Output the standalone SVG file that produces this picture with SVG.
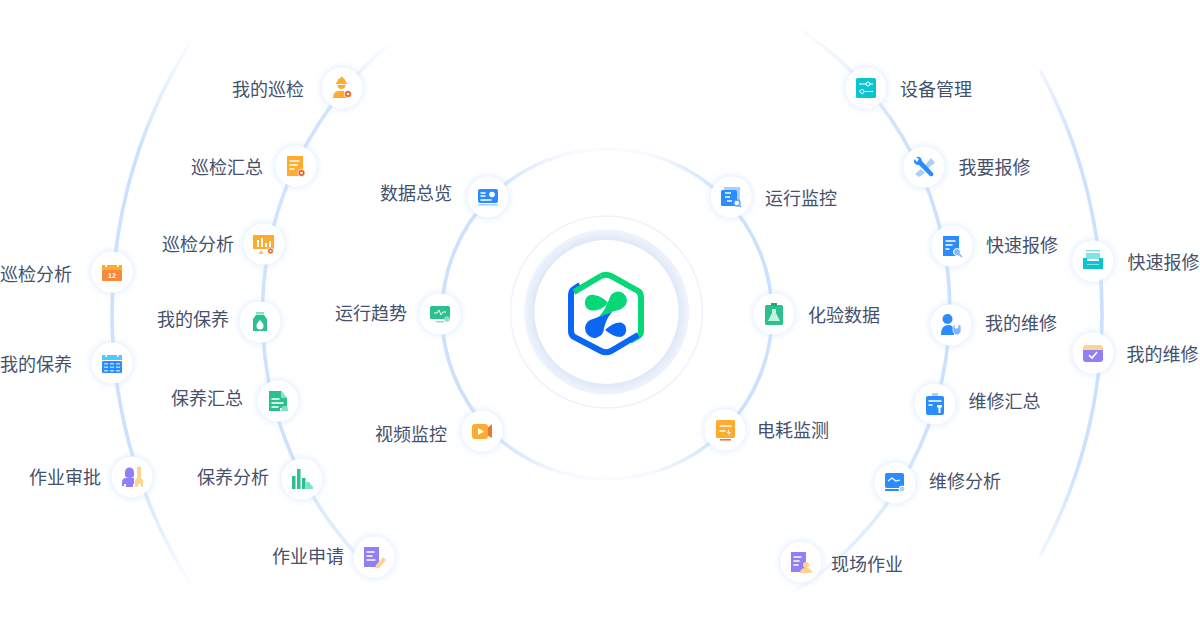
<svg xmlns="http://www.w3.org/2000/svg" width="1200" height="629" viewBox="0 0 1200 629">
<style>
.t{font-family:"Noto Sans CJK SC","Noto Sans",sans-serif;font-size:18px;fill:#45516c}
.c{fill:#fff;filter:url(#glow)}
.l{fill:none;stroke-width:3.6}
.w{fill:#fff}.ws{fill:none;stroke:#fff;stroke-width:1.5;stroke-linecap:round}
.b{fill:#2b8cff}.bl{fill:#a9cfff}.g{fill:#2cc18c}.gl{fill:#80e3c8}.o{fill:#ffab2e}.r{fill:#ec5f1e}.p{fill:#917ff8}.pe{fill:#ffd38e}.te{fill:#0cc4d0}
</style>
<defs>
<filter id="glow" x="-50%" y="-50%" width="200%" height="200%"><feDropShadow dx="0" dy="0" stdDeviation="4" flood-color="#c6ddff" flood-opacity=".7"/></filter>
<linearGradient id="gi" gradientUnits="userSpaceOnUse" x1="442" y1="0" x2="772" y2="0">
<stop offset="0" stop-color="#cbe1ff"/><stop offset=".15" stop-color="#cbe1ff"/><stop offset=".36" stop-color="#cbe1ff" stop-opacity=".2"/><stop offset=".5" stop-color="#cbe1ff" stop-opacity=".1"/><stop offset=".64" stop-color="#cbe1ff" stop-opacity=".2"/><stop offset=".85" stop-color="#cbe1ff"/><stop offset="1" stop-color="#cbe1ff"/>
</linearGradient>
<linearGradient id="gl2" gradientUnits="userSpaceOnUse" x1="0" y1="40" x2="0" y2="580">
<stop offset="0" stop-color="#cbe1ff" stop-opacity="0"/><stop offset=".13" stop-color="#cbe1ff" stop-opacity=".9"/><stop offset=".75" stop-color="#cbe1ff"/><stop offset=".95" stop-color="#cbe1ff" stop-opacity=".5"/><stop offset="1" stop-color="#cbe1ff" stop-opacity="0"/>
</linearGradient>
<linearGradient id="gr2" gradientUnits="userSpaceOnUse" x1="0" y1="20" x2="0" y2="600">
<stop offset="0" stop-color="#cbe1ff" stop-opacity="0"/><stop offset=".2" stop-color="#cbe1ff"/><stop offset=".7" stop-color="#cbe1ff"/><stop offset=".9" stop-color="#cbe1ff" stop-opacity=".55"/><stop offset="1" stop-color="#cbe1ff" stop-opacity="0"/>
</linearGradient>
<linearGradient id="go" gradientUnits="userSpaceOnUse" x1="0" y1="35" x2="0" y2="590">
<stop offset="0" stop-color="#cbe1ff" stop-opacity="0"/><stop offset=".2" stop-color="#cbe1ff"/><stop offset=".78" stop-color="#cbe1ff"/><stop offset="1" stop-color="#cbe1ff" stop-opacity="0"/>
</linearGradient>
<radialGradient id="band" gradientUnits="userSpaceOnUse" cx="606.5" cy="312" r="83">
<stop offset=".86" stop-color="#dde8f7"/><stop offset="1" stop-color="#f0f5fc"/>
</radialGradient>
</defs>
<rect width="1200" height="629" fill="#fff"/>
<g id="connectors">
<circle class="l" cx="607" cy="314" r="165" stroke="url(#gi)"/>
<path class="l" stroke="url(#gl2)" d="M392 42A352 352 0 0 0 395 590"/>
<path class="l" stroke="url(#gr2)" d="M790 23A335 335 0 0 1 785 597"/>
<path class="l" stroke="url(#go)" d="M195 35A507 507 0 0 0 195 591"/>
<path class="l" stroke="url(#go)" d="M1040 70A507 507 0 0 1 1040 556"/>
</g>
<g id="hub">
<circle cx="606.5" cy="312" r="96" fill="#fff" stroke="#eef3fa" stroke-width="1.5"/>
<circle cx="606.500" cy="312" r="82.500" fill="url(#band)"/>
<circle cx="606.500" cy="312" r="72" fill="#fff"/>
<path d="M601 276Q606 273.500 611 276L638 291Q641 293 641 297V331Q641 335 637 337L630 341" fill="none" stroke="#06d877" stroke-width="6"/>
<path d="M580 285L574 289Q571 291 571 295V331Q571 335 574 337L601 351Q606 353.500 611 351L638 335" fill="none" stroke="#0a66f5" stroke-width="6"/>
<path d="M574 292L601 276" fill="none" stroke="#06d877" stroke-width="6"/>
<path d="M585 303C585 297 589 294 594 295C600 296 605 299 608 303C605 307 600 310 594 310.500C589 311 585 308 585 303Z" fill="#06d877"/>
<path d="M611 295A8.500 8.500 0 0 1 625 306C620 311 616 310 612 312C604 315 598 317 597 318C604 313 607 304 611 295Z" fill="#06d877"/>
<path d="M590 320C598 317 604 315 612 312C607 318 606 322 604 328A9.500 9.500 0 1 1 590 320Z" fill="#0a66f5"/>
<path d="M605 330C610 325 616 322 621 322.500A7.500 7.500 0 0 1 620 337C615 337 610 334 605 330Z" fill="#0a66f5"/>
</g>
<g id="n-wdxj"><circle class="c" cx="342" cy="88" r="20.5"/><g transform="translate(342,88)"><path class="o" d="M-5-5.500A4.500 4.500 0 0 1 4-5.500H5V-4H-6V-5.500Z"/><path class="o" d="M-4.500-3H3.500A4 4 0 0 1-4.500-3Z"/><rect class="o" x="-1.200" y="-11" width="2.400" height="3"/><path class="o" d="M-9 10Q-9 3-3 3H2L5 10Z"/><circle class="r" cx="6" cy="6" r="3.600" stroke="#fff" stroke-width=".8"/><circle class="w" cx="6" cy="6" r="1.300"/></g><text class="t" x="232" y="95.500">我的巡检</text></g>
<g id="n-xjhz"><circle class="c" cx="296" cy="166" r="20.500"/><g transform="translate(296,166)"><rect class="o" x="-9" y="-10" width="16" height="20"/><path class="ws" d="M-6-5H3M-6-1H1M-6 3H-2"/><circle class="r" cx="5.500" cy="7" r="3.600" stroke="#fff" stroke-width=".8"/><circle class="w" cx="5.500" cy="7" r="1.300"/></g><text class="t" x="191" y="173.500">巡检汇总</text></g>
<g id="n-xjfx"><circle class="c" cx="264" cy="244" r="20.500"/><g transform="translate(264,244)"><rect class="o" x="-11" y="-9" width="21" height="14"/><path class="w" d="M-7-4h2V3h-2zM-3-6h2V3h-2zM1-1h2V3h-2zM5-3h2V3h-2z"/><path d="M-3 6l2.500 4h-5z" fill="#ffb48a"/><circle class="r" cx="6.500" cy="7" r="3" stroke="#fff" stroke-width=".8"/><circle class="w" cx="6.500" cy="7" r="1"/></g><text class="t" x="162" y="250.500">巡检分析</text></g>
<g id="n-wdby"><circle class="c" cx="260" cy="322" r="20.500"/><g transform="translate(260,322)"><rect class="gl" x="-4" y="-10" width="8" height="2.500"/><path class="g" d="M-4-7H4L7-3V9H-7V-3Z"/><path class="w" d="M0-2Q4 2 3.500 4A3.500 3.500 0 0 1-3.500 4Q-4 2 0-2Z"/></g><text class="t" x="157" y="325.500">我的保养</text></g>
<g id="n-byhz"><circle class="c" cx="278" cy="401" r="20.500"/><g transform="translate(278,401)"><path class="g" d="M-9-10H3L9-3V7H2V10H-9Z"/><path class="gl" d="M3-10L9-3H3Z"/><path class="ws" d="M-6-2H1M-6 2H5M-6 6H0"/><path class="gl" d="M3 10Q3 5 6 5H8Q10 5 10 10Z"/></g><text class="t" x="171" y="404.500">保养汇总</text></g>
<g id="n-byfx"><circle class="c" cx="302" cy="479" r="20.500"/><g transform="translate(302,479)"><path class="g" d="M-10-3h3.500V10H-10zM-5-10h3.500V10H-5zM0-1h3.500V10H0z"/><path class="gl" d="M4 3h3l4 5v2H4z"/></g><text class="t" x="197" y="483.500">保养分析</text></g>
<g id="n-zysq"><circle class="c" cx="374" cy="557" r="20.500"/><g transform="translate(374,557)"><rect class="p" x="-10" y="-10" width="15" height="20"/><path class="ws" d="M-7-5H0M-7-1H-2M-7 3H1"/><path class="pe" d="M2 8L9 0L12 3L5 11L1 11Z"/></g><text class="t" x="272" y="562.500">作业申请</text></g>
<g id="n-xjfx2"><circle class="c" cx="112" cy="272" r="20.500"/><g transform="translate(112,272)"><path class="o" d="M-10-7H10V-2H-10Z"/><rect x="-10" y="-2" width="20" height="11" rx="1" fill="#f58a3d"/><path class="w" d="M-6.500-9h1.500v4h-1.500zM5-9h1.500v4H5z"/><text x="0" y="6" text-anchor="middle" font-family="'Liberation Sans',sans-serif" font-size="7" font-weight="700" fill="#fff">12</text></g><text class="t" x="0" y="280.500">巡检分析</text></g>
<g id="n-wdby2"><circle class="c" cx="112" cy="363" r="20.500"/><g transform="translate(112,363)"><rect x="-10" y="-8" width="20" height="5" fill="#4fc8ff"/><rect class="b" x="-10" y="-2" width="20" height="12" rx="1"/><path class="w" d="M-6.500-10h1.500v4h-1.500zM5-10h1.500v4H5z"/><path d="M-8 0h4v1.500h-4zM-2 0h4v1.500h-4zM4 0h4v1.500h-4zM-8 3.500h4V5h-4zM-2 3.500h4V5h-4zM4 3.500h4V5h-4zM-8 7h4v1.500h-4zM-2 7h4v1.500h-4zM4 7h4v1.500h-4z" fill="#a9d8ff"/></g><text class="t" x="0" y="370.500">我的保养</text></g>
<g id="n-zysp"><circle class="c" cx="132" cy="477" r="20.500"/><g transform="translate(132,477)"><path class="p" d="M-7-5A4.500 4.500 0 0 1 2-5V-2A4.500 3 0 0 1-7-2Z"/><path class="p" d="M-10 6Q-10 1-6 1H2V7H1V10H-6V7H-8V9H-10Z"/><path class="pe" d="M5-10H9V1L11 3V10H9V7H7L5 10H3V3L5 1Z"/></g><text class="t" x="29" y="483.500">作业审批</text></g>
<g id="n-sjzl"><circle class="c" cx="488" cy="197" r="20.500"/><g transform="translate(488,197)"><rect class="b" x="-10" y="-8" width="20" height="14" rx="2"/><rect class="bl" x="-10" y="7" width="20" height="1.500"/><path class="ws" d="M-7-4H-3M-7-1H-3M-7 3H3"/><circle class="w" cx="4" cy="-2.500" r="2.800"/></g><text class="t" x="380" y="199.500">数据总览</text></g>
<g id="n-yxqs"><circle class="c" cx="440" cy="314" r="20.500"/><g transform="translate(440,314)"><rect class="g" x="-10" y="-8" width="20" height="13" rx="1.500"/><path d="M-6-1H-3L-1-4L1 1L3-2H6" fill="none" stroke="#fff" stroke-width="1"/><rect class="gl" x="-4" y="7" width="8" height="1.500"/><circle class="gl" cx="7" cy="5" r="2.800"/></g><text class="t" x="335" y="319.500">运行趋势</text></g>
<g id="n-spjk"><circle class="c" cx="482" cy="431" r="20.500"/><g transform="translate(482,431)"><path d="M3-1L10-7V7L3 3Z" fill="#f2772e"/><rect class="o" x="-10" y="-7" width="16" height="15" rx="3"/><path class="w" d="M-4-3L2 .5L-4 4Z"/></g><text class="t" x="375" y="440.500">视频监控</text></g>
<g id="n-yxjk"><circle class="c" cx="731" cy="197" r="20.500"/><g transform="translate(731,197)"><rect class="bl" x="-7" y="-10" width="16" height="16"/><rect class="b" x="-10" y="-7" width="16" height="16" rx="1.500"/><path d="M-6-4H0M-6 0H-1M-4 4H1" fill="none" stroke="#fff" stroke-width="1.300"/><circle cx="6" cy="6" r="3" fill="#fff" stroke="#4f9fff" stroke-width="1.300"/><path d="M8 8L10 10" stroke="#4f9fff" stroke-width="1.300"/></g><text class="t" x="765" y="204.500">运行监控</text></g>
<g id="n-hysj"><circle class="c" cx="774" cy="314" r="20.500"/><g transform="translate(774,314)"><rect class="g" x="-9" y="-9" width="18" height="20" rx="1.500"/><rect x="-3" y="-11" width="6" height="3" fill="#26a87a"/><path d="M-2-5H2V-1L6 7H-6L-2-1Z" fill="#c4f1e1"/></g><text class="t" x="808" y="321.500">化验数据</text></g>
<g id="n-dhjc"><circle class="c" cx="725" cy="430" r="20.500"/><g transform="translate(725,430)"><rect class="o" x="-9" y="-10" width="19" height="18" rx="1.500"/><rect x="-5" y="9" width="11" height="1.600" fill="#f2772e"/><path class="ws" d="M-5-4H6M-5 1H0"/><path class="w" d="M4-1L2 3H4L3 6L6 2H4Z"/></g><text class="t" x="757" y="436.500">电耗监测</text></g>
<g id="n-sbgl"><circle class="c" cx="866" cy="88" r="20.500"/><g transform="translate(866,88)"><rect class="te" x="-10" y="-10" width="20" height="20" rx="1.500"/><path d="M-7-4H7M-7 3.500H7" stroke="#fff" stroke-width="1"/><circle cx="2" cy="-4" r="2" fill="#0cc4d0" stroke="#fff"/><circle cx="-4" cy="3.500" r="2" fill="#0cc4d0" stroke="#fff"/></g><text class="t" x="900" y="95.500">设备管理</text></g>
<g id="n-wybx"><circle class="c" cx="924" cy="167" r="20.500"/><g transform="translate(924,167)"><path class="bl" d="M1-2L7-9L11-4L4 1ZM-3 2L1 6L-5 10L-9 7Z"/><path class="b" d="M-10-8Q-8-6-7-5L-5-8L-8-10Q-3-11-2-6L9 6Q10 9 8 9Q6 10 5 8L-5-2Q-11-2-10-8Z"/></g><text class="t" x="958.500" y="173.500">我要报修</text></g>
<g id="n-ksbx"><circle class="c" cx="952" cy="246" r="20.500"/><g transform="translate(952,246)"><rect class="b" x="-9" y="-10" width="16" height="20"/><path class="ws" d="M-6-5H3M-6-1H0M-6 3H-3"/><circle cx="5" cy="6" r="3.500" fill="#7db8ff" stroke="#fff"/><path d="M7 8L10 11" stroke="#7db8ff" stroke-width="1.500"/></g><text class="t" x="986" y="251.500">快速报修</text></g>
<g id="n-wdwx"><circle class="c" cx="951" cy="325" r="20.500"/><g transform="translate(951,325)"><circle class="b" cx="-3.500" cy="-6" r="5"/><path class="b" d="M-10 10Q-10 0-3 0Q2 0 3 4V10Z"/><path d="M2 1L4-1V3H7V-1L10 1V7L7 10H5L2 7Z" fill="#7db8ff" stroke="#fff" stroke-width=".7"/></g><text class="t" x="985" y="329.500">我的维修</text></g>
<g id="n-wxhz"><circle class="c" cx="935" cy="404" r="20.500"/><g transform="translate(935,404)"><rect class="b" x="-9" y="-8" width="18" height="19" rx="2"/><rect class="bl" x="-3" y="-11" width="6" height="3"/><path class="ws" d="M-6-3H6M-6 1H-3"/><path class="w" d="M2 1H7V3L5.500 4V9H3.500V4L2 3Z"/></g><text class="t" x="968.500" y="407.500">维修汇总</text></g>
<g id="n-wxfx"><circle class="c" cx="895" cy="483" r="20.500"/><g transform="translate(895,483)"><rect class="b" x="-10" y="-10" width="19" height="15" rx="2"/><rect class="b" x="-10" y="6" width="15" height="2"/><path d="M-7-2L-3-5L1-2L5-3" fill="none" stroke="#fff" stroke-width="1.200"/><circle cx="7" cy="6" r="3" fill="#a9cfff" stroke="#fff"/></g><text class="t" x="929" y="487.500">维修分析</text></g>
<g id="n-xczy"><circle class="c" cx="801" cy="562" r="20.500"/><g transform="translate(801,562)"><rect class="p" x="-10" y="-10" width="15" height="20"/><path class="ws" d="M-7-5H0M-7-1H-2M-7 3H-3"/><circle class="pe" cx="5" cy="3" r="3"/><path class="pe" d="M-1 11Q-1 6 5 6Q11 6 11 11Z"/></g><text class="t" x="831" y="570.500">现场作业</text></g>
<g id="n-ksbx2"><circle class="c" cx="1093" cy="261" r="20.500"/><g transform="translate(1093,261)"><rect x="-7" y="-11" width="14" height="1.500" fill="#7fe3e8"/><path d="M-7-8H7V-2H-7Z" fill="#7fe3e8"/><path class="te" d="M-10-3H-6V0H6V-3H10V8H-10Z"/><rect x="-6" y="3" width="12" height="1" fill="#7fe3e8"/></g><text class="t" x="1127.500" y="268.500">快速报修</text></g>
<g id="n-wdwx2"><circle class="c" cx="1093" cy="353" r="20.500"/><g transform="translate(1093,353)"><path class="pe" d="M-10-4Q-10-8-7-8H7Q10-8 10-4V-3H-10Z"/><path class="p" d="M-10-3H10V6Q10 9 7 9H-7Q-10 9-10 6Z"/><path d="M-4 2L-1 5L4-1" fill="none" stroke="#fff" stroke-width="1.600"/></g><text class="t" x="1126.500" y="360.500">我的维修</text></g>
</svg>
